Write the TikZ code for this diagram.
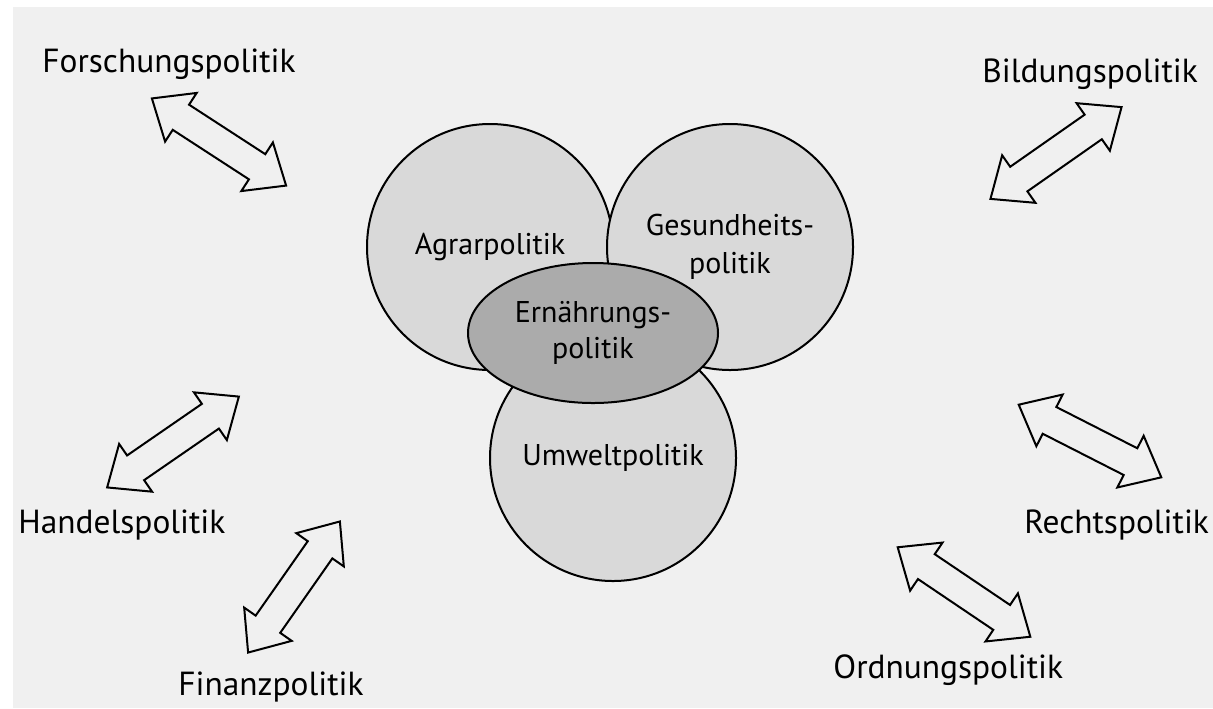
\documentclass[tikz,border=0pt]{standalone}
\usepackage{fontspec}
\setmainfont{PT Sans}
\usetikzlibrary{shapes.geometric,shapes.arrows}
\definecolor{paper}{gray}{0.94}
\definecolor{circlegray}{gray}{0.85}
\definecolor{coregray}{gray}{0.67}
\begin{document}
\begin{tikzpicture}[x=0.5pt,y=-0.5pt,
    area/.style={draw,circle,line width=1pt,fill=circlegray,minimum size=123pt,inner sep=0pt,align=center,font=\fontsize{15}{19}\selectfont},
    core/.style={draw,ellipse,line width=1pt,fill=coregray,minimum width=125pt,minimum height=70pt,inner sep=0pt,align=center,font=\fontsize{15}{18}\selectfont},
    link/.style={draw,double arrow,line width=1pt,fill=paper,minimum height=80pt,inner xsep=0pt,inner ysep=7pt,double arrow head extend=7pt,double arrow tip angle=80},
    outer/.style={anchor=base west,inner sep=0pt,font=\fontsize{16.7}{18}\selectfont}]
\useasboundingbox (0,0) rectangle (1213,708);
\fill[white] (0,0) rectangle (1213,708);
\fill[paper] (13,7) rectangle (1213,708);
% circles
\node[area](umwelt) at (613,458) {\raisebox{3pt}{Umweltpolitik}};
\node[area](agrar) at (490,247) {Agrarpolitik};
\node[area](gesund) at (730,247) {Gesundheits-\\politik};
\node[core](ernaehrung) at (593,333) {\raisebox{-6pt}{Ernährungs-}\\\raisebox{-6pt}{politik}};
% arrows
\node[link,rotate=-33](a1) at (219,142) {};
\node[link,rotate=35](a2) at (1056,153) {};
\node[link,rotate=34.6](a3) at (173,442) {};
\node[link,rotate=55](a4) at (294,587) {};
\node[link,rotate=-27](a5) at (1090,441) {};
\node[link,rotate=-34](a6) at (964,592) {};
% labels
\node[outer](forschung) at (42,72) {Forschungspolitik};
\node[outer](bildung) at (982,82) {Bildungspolitik};
\node[outer](handel) at (18,533) {Handelspolitik};
\node[outer](finanz) at (178,695) {Finanzpolitik};
\node[outer](recht) at (1024,533) {Rechtspolitik};
\node[outer](ordnung) at (833,678) {Ordnungspolitik};
\end{tikzpicture}
\end{document}
